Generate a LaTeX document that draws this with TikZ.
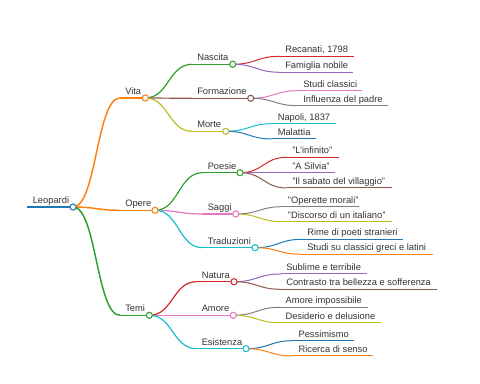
\documentclass[tikz,border=0pt]{standalone}
\usepackage{fontspec}
\setmainfont{Liberation Sans}
\usetikzlibrary{calc}
\pgfdeclarelayer{bg}\pgfsetlayers{bg,main}
\definecolor{cblue}{HTML}{1F77B4}
\definecolor{corange}{HTML}{FF7F0E}
\definecolor{cgreen}{HTML}{2CA02C}
\definecolor{cred}{HTML}{D62728}
\definecolor{cpurple}{HTML}{9467BD}
\definecolor{cbrown}{HTML}{8C564B}
\definecolor{cpink}{HTML}{E377C2}
\definecolor{cgray}{HTML}{7F7F7F}
\definecolor{colive}{HTML}{BCBD22}
\definecolor{ccyan}{HTML}{17BECF}
\definecolor{txtc}{HTML}{333333}
\tikzset{
  txt/.style={inner sep=0pt, text=txtc, font=\fontsize{7}{8}\selectfont, anchor=base west},
  dot/.style={circle, fill=white, inner sep=0pt, minimum size=4.6pt, line width=0.8pt},
}
% branch node: name, xs, xe, y, colour, text, width
\newcommand\mmbr[7]{%
  \coordinate (#1-s) at (#2,#4);
  \node[txt] (#1-t) at ({#2+5},{#4-3.5}) {#6};
  \node[dot, draw=#5] (#1) at (#3,#4) {};
  \begin{pgfonlayer}{bg}\draw[#5, line width=#7] (#1-s) -- (#1.center);\end{pgfonlayer}
}
% leaf node: name, xs, xe, y, colour, text
\newcommand\mmleaf[6]{%
  \coordinate (#1-s) at (#2,#4);
  \coordinate (#1) at (#3,#4);
  \node[txt] (#1-t) at ({#2+5},{#4-3.5}) {#6};
  \draw[#5, line width=0.75pt] (#1-s) -- (#1);
}
% link: parent, child, colour, width
\newcommand\mmlink[4]{%
  \begin{pgfonlayer}{bg}
  \draw[#3, line width=#4] let \p1=(#1.center), \p2=(#2-s) in
    (\p1) .. controls ({(\x1+\x2)/2},\y1) and ({(\x1+\x2)/2},\y2) .. (\p2);
  \end{pgfonlayer}
}
\begin{document}
\begin{tikzpicture}[x=0.75pt,y=-0.75pt]
\useasboundingbox (0,0) rectangle (480,384);
% root
\mmbr{root}{27.5}{73}{207}{cblue}{Leopardi}{1.5pt}
% level 1
\mmbr{vita}{120}{145.3}{98}{corange}{Vita}{1.1pt}
\mmbr{opere}{120}{155}{210.3}{corange}{Opere}{1.1pt}
\mmbr{temi}{120}{149.3}{315.3}{cgreen}{Temi}{1.1pt}
\mmlink{root}{vita}{corange}{1.1pt}
\mmlink{root}{opere}{corange}{1.1pt}
\mmlink{root}{temi}{cgreen}{1.1pt}
% level 2
\mmbr{nascita}{192}{232.7}{64.3}{cgreen}{Nascita}{0.9pt}
\mmbr{formazione}{192}{250.7}{98.3}{cbrown}{Formazione}{0.9pt}
\mmbr{morte}{192}{225.7}{131.3}{colive}{Morte}{0.9pt}
\mmbr{poesie}{202.5}{240}{172.7}{cgreen}{Poesie}{0.9pt}
\mmbr{saggi}{202.5}{235.7}{214}{cpink}{Saggi}{0.9pt}
\mmbr{traduzioni}{202.5}{255}{247.7}{ccyan}{Traduzioni}{0.9pt}
\mmbr{natura}{196.5}{234}{281.7}{cred}{Natura}{0.9pt}
\mmbr{amore}{196.5}{233.3}{315.3}{cpink}{Amore}{0.9pt}
\mmbr{esistenza}{196.5}{246}{348.7}{ccyan}{Esistenza}{0.9pt}
\mmlink{vita}{nascita}{cgreen}{0.9pt}
\mmlink{vita}{formazione}{cbrown}{0.9pt}
\mmlink{vita}{morte}{colive}{0.9pt}
\mmlink{opere}{poesie}{cgreen}{0.9pt}
\mmlink{opere}{saggi}{cpink}{0.9pt}
\mmlink{opere}{traduzioni}{ccyan}{0.9pt}
\mmlink{temi}{natura}{cred}{0.9pt}
\mmlink{temi}{amore}{cpink}{0.9pt}
\mmlink{temi}{esistenza}{ccyan}{0.9pt}
% leaves
\mmleaf{recanati}{280}{354}{56.3}{cred}{Recanati, 1798}
\mmleaf{famiglia}{280}{353}{72.3}{cpurple}{Famiglia nobile}
\mmleaf{studi}{298}{362}{90.7}{cpink}{Studi classici}
\mmleaf{influenza}{298}{387.7}{105.7}{cgray}{Influenza del padre}
\mmleaf{napoli}{272.5}{336}{123.7}{ccyan}{Napoli, 1837}
\mmleaf{malattia}{272.5}{316}{139}{cblue}{Malattia}
\mmleaf{infinito}{287}{339}{157.3}{cred}{"L'infinito"}
\mmleaf{silvia}{287}{335}{172.7}{cpurple}{"A Silvia"}
\mmleaf{sabato}{287}{391.7}{188}{cbrown}{"Il sabato del villaggio"}
\mmleaf{operette}{282.7}{359}{206.7}{cgray}{"Operette morali"}
\mmleaf{discorso}{282.7}{391.7}{221.7}{colive}{"Discorso di un italiano"}
\mmleaf{rime}{302}{403}{239.3}{cblue}{Rime di poeti stranieri}
\mmleaf{studisu}{302}{432.7}{254.3}{corange}{Studi su classici greci e latini}
\mmleaf{sublime}{281}{366.7}{274}{cpurple}{Sublime e terribile}
\mmleaf{contrasto}{281}{436.7}{289.3}{cbrown}{Contrasto tra bellezza e sofferenza}
\mmleaf{amimp}{280.3}{367.7}{307.3}{cgray}{Amore impossibile}
\mmleaf{desiderio}{280.3}{380.7}{322.7}{colive}{Desiderio e delusione}
\mmleaf{pessimismo}{293.3}{354}{340.7}{cblue}{Pessimismo}
\mmleaf{ricerca}{293.3}{372.7}{356}{corange}{Ricerca di senso}
\mmlink{nascita}{recanati}{cred}{0.75pt}
\mmlink{nascita}{famiglia}{cpurple}{0.75pt}
\mmlink{formazione}{studi}{cpink}{0.75pt}
\mmlink{formazione}{influenza}{cgray}{0.75pt}
\mmlink{morte}{napoli}{ccyan}{0.75pt}
\mmlink{morte}{malattia}{cblue}{0.75pt}
\mmlink{poesie}{infinito}{cred}{0.75pt}
\mmlink{poesie}{silvia}{cpurple}{0.75pt}
\mmlink{poesie}{sabato}{cbrown}{0.75pt}
\mmlink{saggi}{operette}{cgray}{0.75pt}
\mmlink{saggi}{discorso}{colive}{0.75pt}
\mmlink{traduzioni}{rime}{cblue}{0.75pt}
\mmlink{traduzioni}{studisu}{corange}{0.75pt}
\mmlink{natura}{sublime}{cpurple}{0.75pt}
\mmlink{natura}{contrasto}{cbrown}{0.75pt}
\mmlink{amore}{amimp}{cgray}{0.75pt}
\mmlink{amore}{desiderio}{colive}{0.75pt}
\mmlink{esistenza}{pessimismo}{cblue}{0.75pt}
\mmlink{esistenza}{ricerca}{corange}{0.75pt}
\end{tikzpicture}
\end{document}
